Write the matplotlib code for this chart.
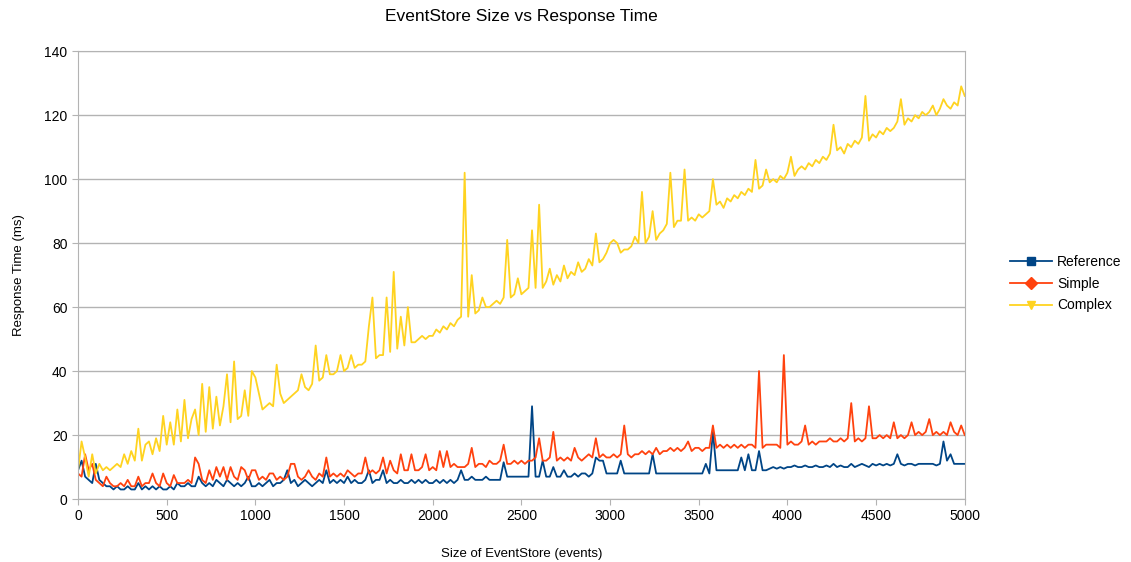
import matplotlib.pyplot as plt
from matplotlib.lines import Line2D
import numpy as np

plt.rcParams['font.family'] = ['Liberation Sans', 'DejaVu Sans']

# EventStore size, sampled every 20 events
sizes = np.arange(0, 5001, 20)

reference_ms = [
    9, 12, 7, 6, 5, 11, 6, 5, 4, 4,
    3, 4, 3, 3, 4, 3, 3, 5, 3, 4,
    3, 4, 3, 4, 3, 3, 4, 3, 5, 4,
    4, 5, 4, 4, 7, 5, 4, 5, 4, 6,
    5, 4, 6, 5, 4, 5, 4, 5, 7, 4,
    4, 5, 4, 5, 6, 4, 5, 5, 6, 9,
    5, 6, 4, 5, 6, 5, 4, 5, 6, 5,
    9, 5, 6, 5, 6, 5, 7, 5, 6, 5,
    5, 6, 9, 5, 6, 6, 9, 5, 6, 5,
    5, 6, 5, 5, 6, 5, 6, 5, 6, 5,
    5, 6, 5, 6, 5, 6, 5, 6, 9, 6,
    6, 7, 6, 6, 6, 7, 6, 6, 6, 6,
    11.5, 7, 7, 7, 7, 7, 7, 7, 29, 7,
    7, 12, 7, 7, 10, 7, 7, 9, 7, 7,
    8, 7, 8, 8, 7, 8, 13, 12, 12, 8,
    8, 8, 8, 12, 8, 8, 8, 8, 8, 8,
    8, 8, 14, 8, 8, 8, 8, 8, 8, 8,
    8, 8, 8, 8, 8, 8, 8, 11, 8, 21,
    9, 9, 9, 9, 9, 9, 9, 13, 9, 14,
    9, 9, 15, 9, 9, 9.5, 10, 9.5, 10, 9.5,
    10, 10, 10.5, 10, 10, 10.5, 10, 10, 10.5, 10,
    10, 10.5, 10, 11, 10, 10.5, 10, 10, 11, 10,
    10.5, 11, 10.5, 10, 11, 10.5, 11, 10.5, 11, 10.5,
    11, 14, 11, 10.5, 11, 11, 10.5, 11, 11, 11,
    11, 11, 10.5, 11, 18, 12, 14, 11, 11, 11,
    11,
]

simple_ms = [
    8, 7, 14, 9, 11, 6, 5, 4, 7, 5,
    4, 4, 5, 4, 6, 4, 4, 7, 4, 5,
    5, 8, 5, 4, 8, 5, 4, 7.5, 5, 5,
    5, 6, 5, 13, 11, 6, 5, 9, 6, 10,
    7, 10, 6, 10, 7, 6, 10, 9, 6, 9,
    9, 6, 7, 6, 8, 8, 6, 7, 6, 7,
    11, 11, 7, 6, 7, 9, 7, 6, 8, 7,
    13, 7, 8, 7, 8, 7, 9, 8, 7, 8,
    8, 13, 8, 9, 8, 9, 13, 8, 12, 9,
    8, 14, 9, 9, 14, 9, 9, 10, 14, 9,
    10, 9, 15, 10, 15, 10, 11, 10, 10, 10,
    11, 16, 10, 11, 11, 10, 12, 11, 11, 12,
    17, 11, 11, 12, 11, 12, 11, 12, 12, 13,
    19, 12, 12, 13, 21, 12, 13, 12, 13, 12,
    16, 13, 12, 13, 14, 13, 19, 13, 14, 13,
    13, 14, 13, 14, 23, 14, 13, 14, 14, 15,
    14, 15, 14, 16, 14, 15, 15, 16, 15, 16,
    15, 16, 18, 15, 16, 16, 15, 16, 16, 23,
    16, 17, 16, 17, 16, 17, 16, 17, 16, 17,
    17, 16, 40, 16, 17, 17, 17, 17, 16, 45,
    17, 18, 17, 17, 18, 23, 17, 18, 17, 18,
    18, 18, 19, 18, 18, 19, 18, 19, 30, 18,
    19, 18, 19, 29, 19, 19, 20, 19, 20, 19,
    24, 19, 20, 19, 20, 24, 20, 21, 20, 21,
    25, 20, 21, 20, 21, 20, 24, 21, 20, 23,
    20,
]

complex_ms = [
    9, 18, 13, 7, 14, 8, 11, 9, 10, 9,
    10, 11, 10, 14, 11, 15, 12, 22, 12, 17,
    18, 14, 19, 15, 26, 17, 24, 17, 28, 18,
    31, 19, 25, 28, 20, 36, 21, 35, 22, 32,
    23, 29, 39, 24, 43, 25, 26, 34, 26, 40,
    38, 33, 28, 29, 30, 29, 42, 33, 30, 31,
    32, 33, 34, 39, 35, 34, 36, 48, 37, 38,
    45, 39, 39, 40, 45, 40, 41, 45, 41, 42,
    42, 43, 54, 63, 44, 45, 45, 63, 46, 71,
    47, 57, 48, 60, 49, 49, 50, 51, 50, 51,
    51, 53, 52, 54, 53, 55, 54, 56, 57, 102,
    57, 70, 58, 59, 63, 60, 60, 61, 62, 61,
    63, 81, 63, 64, 69, 64, 65, 66, 84, 66,
    92, 66, 68, 72, 67, 70, 68, 73, 69, 71,
    70, 74, 71, 72, 75, 73, 83, 74, 75, 77,
    80, 81, 80, 77, 78, 78, 79, 82, 80, 96,
    80, 82, 90, 81, 83, 84, 86, 102, 85, 87,
    87, 103, 87, 88, 87, 89, 88, 89, 90, 100,
    92, 93, 91, 94, 93, 95, 94, 96, 95, 97,
    96, 106, 97, 98, 103, 99, 100, 99, 101, 100,
    102, 107, 101, 103, 104, 103, 105, 104, 106, 105,
    107, 106, 108, 117, 109, 110, 108, 111, 110, 112,
    111, 113, 126, 112, 114, 113, 115, 114, 116, 115,
    116, 118, 125, 117, 119, 118, 120, 119, 121, 120,
    121, 123, 120, 122, 125, 123, 122, 124, 123, 129,
    126,
]

series_names = ['Reference', 'Simple', 'Complex']
series_colors = ['#004586', '#ff420e', '#ffd320']
series_markers = ['s', 'D', 'v']

fig = plt.figure(figsize=(11.31, 5.62), dpi=100)
ax = fig.add_axes([0.069, 0.112, 0.784, 0.797])

for values, color in zip([reference_ms, simple_ms, complex_ms], series_colors):
    ax.plot(sizes, values, color=color, linewidth=1.3)

ax.set_xlim(0, 5000)
ax.set_ylim(0, 140)
ax.set_xticks(range(0, 5001, 500))
ax.set_yticks(range(0, 141, 20))
ax.yaxis.grid(True, color='#b3b3b3', linewidth=1)
ax.set_axisbelow(True)
for spine in ax.spines.values():
    spine.set_color('#b3b3b3')
ax.tick_params(colors='#b3b3b3', labelcolor='black', labelsize=10, length=4)

ax.set_title('EventStore Size vs Response Time', fontsize=12.5, pad=22)
ax.set_xlabel('Size of EventStore (events)', fontsize=9.5, labelpad=18)
ax.set_ylabel('Response Time (ms)', fontsize=9.5, labelpad=14)

handles = [Line2D([0], [0], color=c, marker=m, markersize=6, linewidth=1.3)
           for c, m in zip(series_colors, series_markers)]
fig.legend(handles, series_names, loc='center left', bbox_to_anchor=(0.882, 0.495),
           frameon=False, fontsize=10, handlelength=3.0, labelspacing=0.55,
           handletextpad=0.4)

fig.savefig('out.png', dpi=100)
